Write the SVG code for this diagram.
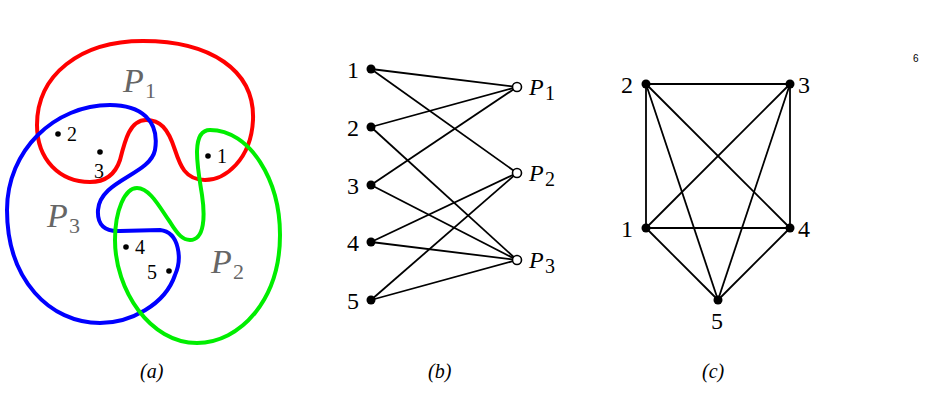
<svg xmlns="http://www.w3.org/2000/svg" width="931" height="409" viewBox="0 0 931 409">
<style>
.t{font-family:"Liberation Serif",serif;font-size:24px;fill:#000}
.s{font-family:"Liberation Serif",serif;font-size:20px;fill:#000}
.p{font-family:"Liberation Serif",serif;font-style:italic;font-size:34px;fill:#666}
.ps{font-family:"Liberation Serif",serif;font-size:22px;fill:#666}
.c{fill:none;stroke-width:4}
.e{stroke:#000;stroke-width:1.8;fill:none}
</style>
<rect width="931" height="409" fill="#fff"/>
<text x="913" y="62" font-family="Liberation Sans,sans-serif" font-size="10">6</text>
<g id="panel-a">
<path class="c" stroke="#f00" d="M143,41 C210,41 255,70 253,120 C251,160 225,180 205,180 C185,180 180,165 175,150 C168,128 160,120 146,120 C130,120 125,140 120,160 C115,175 105,182 90,182 C60,182 37,160 37,125 C37,75 80,41 143,41 Z"/>
<path class="c" stroke="#00f" d="M110,105 C140,105 160,120 155,150 C150,175 100,180 98,210 C97,225 105,232 120,231 L160,230 C180,232 182,260 175,275 C165,305 130,323 100,323 C50,323 7,280 7,210 C7,150 55,105 110,105 Z"/>
<path class="c" stroke="#0e0" d="M210,130 C250,130 280,180 280,235 C280,300 240,343 197,343 C150,343 115,290 115,240 C115,210 125,188 137,188 C150,188 160,208 170,222 C178,235 183,240 190,240 C205,240 205,215 202,195 C198,170 190,130 210,130 Z"/>
<g fill="#000"><circle cx="208" cy="156" r="2.8"/><circle cx="58" cy="134" r="2.8"/><circle cx="100" cy="152" r="2.8"/><circle cx="126" cy="247" r="2.8"/><circle cx="169" cy="271" r="2.8"/></g>
<text class="s" x="217" y="163">1</text><text class="s" x="67" y="141">2</text><text class="s" x="94" y="178">3</text><text class="s" x="135" y="254">4</text><text class="s" x="147" y="279">5</text>
<text class="p" x="123" y="92">P</text><text class="ps" x="145" y="98">1</text>
<text class="p" x="47" y="227">P</text><text class="ps" x="69" y="233">3</text>
<text class="p" x="211" y="273">P</text><text class="ps" x="233" y="279">2</text>
<text class="s" x="140" y="378" font-style="italic">(a)</text>
</g>
<g id="connectors-b">
<line class="e" x1="371" y1="69" x2="517" y2="87"/><line class="e" x1="371" y1="69" x2="517" y2="173"/>
<line class="e" x1="371" y1="127" x2="517" y2="87"/><line class="e" x1="371" y1="127" x2="517" y2="260"/>
<line class="e" x1="371" y1="185" x2="517" y2="87"/><line class="e" x1="371" y1="185" x2="517" y2="260"/>
<line class="e" x1="371" y1="242" x2="517" y2="173"/><line class="e" x1="371" y1="242" x2="517" y2="260"/>
<line class="e" x1="371" y1="300" x2="517" y2="173"/><line class="e" x1="371" y1="300" x2="517" y2="260"/>
</g>
<g id="nodes-b">
<g fill="#000"><circle cx="371" cy="69" r="4.5"/><circle cx="371" cy="127" r="4.5"/><circle cx="371" cy="185" r="4.5"/><circle cx="371" cy="242" r="4.5"/><circle cx="371" cy="300" r="4.5"/></g>
<g fill="#fff" stroke="#000" stroke-width="1.6"><circle cx="517" cy="87" r="4.5"/><circle cx="517" cy="173" r="4.5"/><circle cx="517" cy="260" r="4.5"/></g>
<text class="t" x="347" y="78">1</text><text class="t" x="347" y="136">2</text><text class="t" x="347" y="194">3</text><text class="t" x="347" y="251">4</text><text class="t" x="347" y="309">5</text>
<text class="t" x="529" y="95" font-style="italic">P</text><text class="s" x="545" y="100" font-size="16">1</text>
<text class="t" x="529" y="181" font-style="italic">P</text><text class="s" x="545" y="186" font-size="16">2</text>
<text class="t" x="529" y="268" font-style="italic">P</text><text class="s" x="545" y="273" font-size="16">3</text>
<text class="s" x="428" y="378" font-style="italic">(b)</text>
</g>
<g id="connectors-c">
<line class="e" x1="646" y1="84" x2="790" y2="84"/><line class="e" x1="646" y1="84" x2="646" y2="228"/>
<line class="e" x1="646" y1="84" x2="790" y2="228"/><line class="e" x1="646" y1="84" x2="718" y2="300"/>
<line class="e" x1="790" y1="84" x2="646" y2="228"/><line class="e" x1="790" y1="84" x2="790" y2="228"/>
<line class="e" x1="790" y1="84" x2="718" y2="300"/><line class="e" x1="646" y1="228" x2="790" y2="228"/>
<line class="e" x1="646" y1="228" x2="718" y2="300"/><line class="e" x1="790" y1="228" x2="718" y2="300"/>
</g>
<g id="nodes-c" fill="#000">
<circle cx="646" cy="84" r="4.5"/><circle cx="790" cy="84" r="4.5"/><circle cx="646" cy="228" r="4.5"/><circle cx="790" cy="228" r="4.5"/><circle cx="718" cy="300" r="4.5"/>
<text class="t" x="621" y="93">2</text><text class="t" x="798" y="93">3</text><text class="t" x="621" y="237">1</text><text class="t" x="798" y="237">4</text><text class="t" x="711" y="329">5</text>
<text class="s" x="702" y="378" font-style="italic">(c)</text>
</g>
</svg>
